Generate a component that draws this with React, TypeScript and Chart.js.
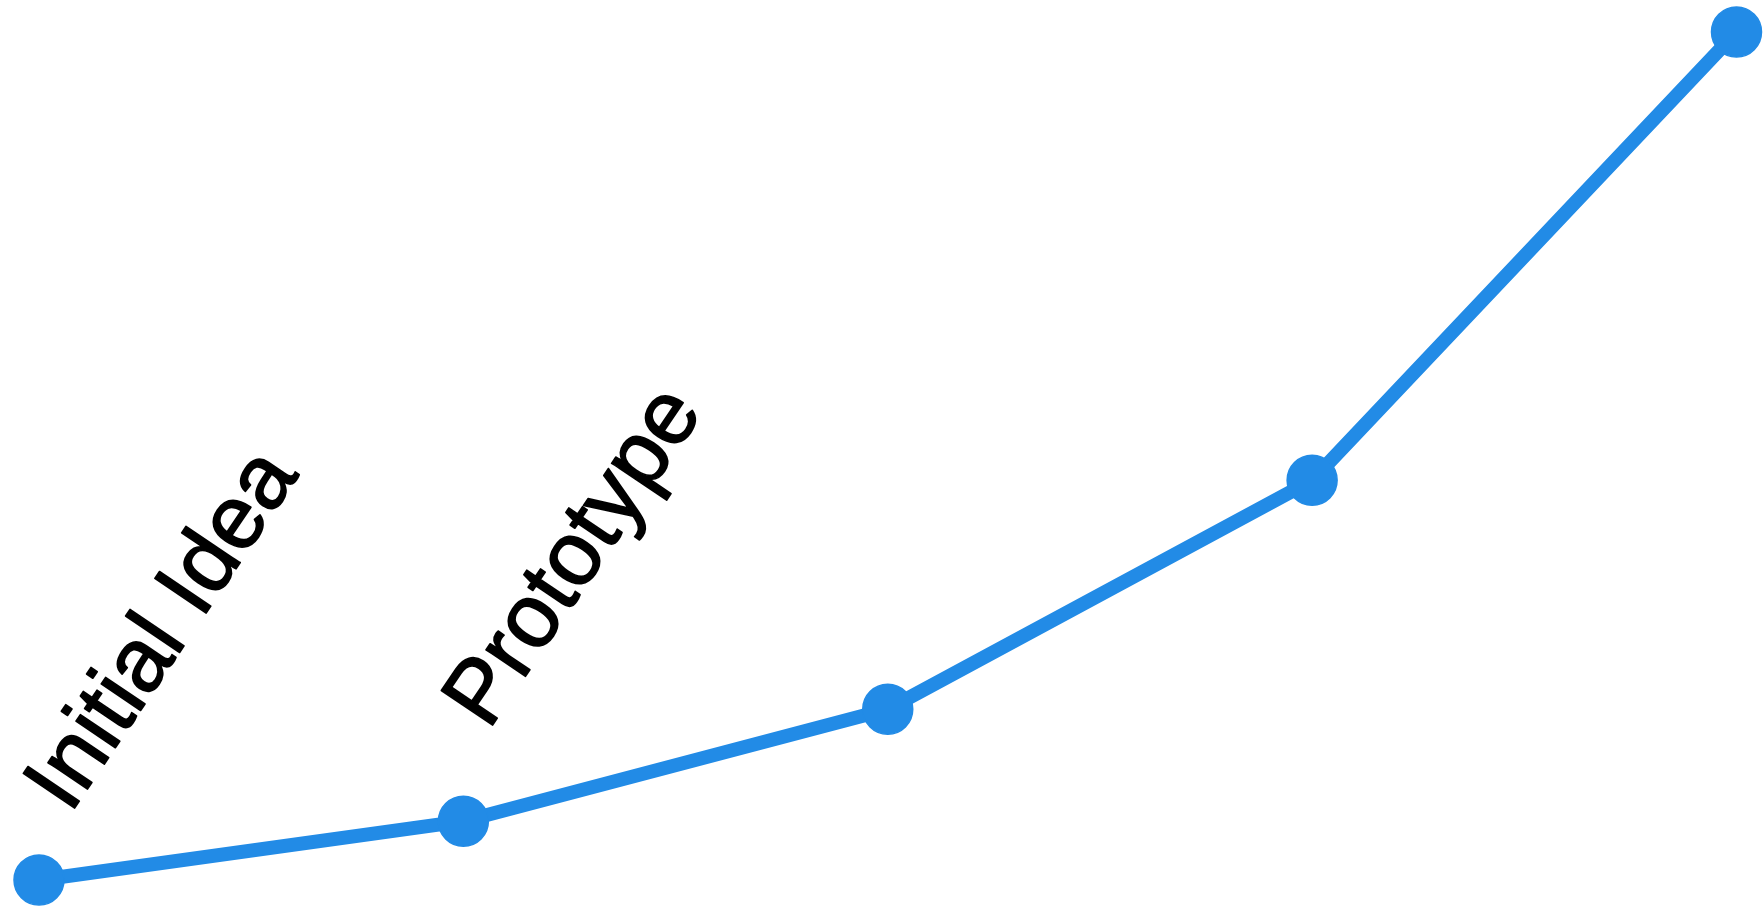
import React, { useEffect, useRef } from "react";
import { Chart, registerables } from "chart.js";

Chart.register(...registerables);

// Data
const stages: string[] = ["Initial Idea", "Prototype", "Stage 3", "Stage 4", "Stage 5"];
const progress: number[] = [1, 2.04, 4.02, 8.07, 16];
const annotatedStages: string[] = ["Initial Idea", "Prototype"];

// Style
const LINE_COLOR = "#228be6";
const LABEL_ANGLE_DEG = -56;
const LABEL_FONT = '90px "Liberation Sans", Arial, Helvetica, sans-serif';
const LABEL_SHIFT_X = [31, 25];
const LABEL_LIFT = [65, 90];

const stageLabelPlugin = {
  id: "stageLabels",
  afterDatasetsDraw(chart: any) {
    const meta = chart.getDatasetMeta(0);
    const ctx = chart.ctx;
    annotatedStages.forEach((name, k) => {
      const idx = stages.indexOf(name);
      const pt = meta.data[idx];
      if (!pt) return;
      ctx.save();
      ctx.translate(pt.x + LABEL_SHIFT_X[k], pt.y - LABEL_LIFT[k]);
      ctx.rotate((LABEL_ANGLE_DEG * Math.PI) / 180);
      ctx.font = LABEL_FONT;
      ctx.fillStyle = "#000000";
      ctx.strokeStyle = "#000000";
      ctx.lineWidth = 1.6;
      ctx.lineJoin = "round";
      ctx.textAlign = "left";
      ctx.textBaseline = "alphabetic";
      ctx.fillText(name, 0, 0);
      ctx.strokeText(name, 0, 0);
      ctx.restore();
    });
  },
};

export default function App() {
  const canvasRef = useRef<HTMLCanvasElement | null>(null);

  useEffect(() => {
    if (!canvasRef.current) return;
    const chart = new Chart(canvasRef.current, {
      type: "line",
      data: {
        labels: stages,
        datasets: [
          {
            data: progress,
            borderColor: LINE_COLOR,
            backgroundColor: LINE_COLOR,
            borderWidth: 14,
            pointRadius: 25,
            pointHoverRadius: 25,
            pointBackgroundColor: LINE_COLOR,
            pointBorderColor: LINE_COLOR,
            pointBorderWidth: 1.5,
            tension: 0,
            fill: false,
            clip: false as any,
          },
        ],
      },
      options: {
        animation: false,
        responsive: true,
        maintainAspectRatio: false,
        layout: { padding: { left: 39, right: 26, top: 32, bottom: 28 } },
        plugins: {
          legend: { display: false },
          tooltip: { enabled: false },
        },
        scales: {
          x: { display: false, offset: false },
          y: { display: false, min: 1, max: 16 },
        },
      },
      plugins: [stageLabelPlugin],
    });
    return () => chart.destroy();
  }, []);

  return (
    <div
      style={{
        position: "fixed",
        left: 0,
        top: 0,
        width: "1763px",
        height: "908px",
        background: "#ffffff",
      }}
    >
      <canvas ref={canvasRef} />
    </div>
  );
}
